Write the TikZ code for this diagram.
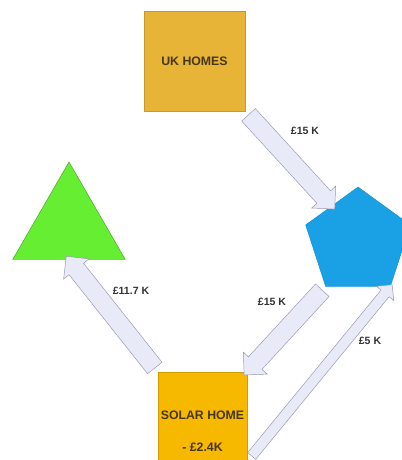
\documentclass[tikz,border=0pt]{standalone}
\usepackage{fontspec}
\setmainfont{Liberation Sans}
\usetikzlibrary{shapes.geometric,shapes.arrows,calc}
\definecolor{ukgold}{RGB}{232,180,56}
\definecolor{solargold}{RGB}{247,184,0}
\definecolor{pentblue}{RGB}{26,160,228}
\definecolor{trigreen}{RGB}{102,238,51}
\definecolor{arrowfill}{RGB}{232,234,248}
\definecolor{arrowline}{RGB}{150,150,178}
\definecolor{boxtext}{RGB}{70,55,20}

\begin{document}
\begin{tikzpicture}[x=0.03cm, y=-0.03cm,
    boxlbl/.style={font=\fontsize{10.5}{12}\selectfont\bfseries, text=boxtext, align=center, inner sep=0pt},
    flowlbl/.style={font=\fontsize{9}{11}\selectfont\bfseries, text=black!80},
    flow/.style={single arrow, draw=arrowline, fill=arrowfill, inner xsep=0pt, outer sep=0pt, single arrow tip angle=90}
]
\useasboundingbox (0,0) rectangle (401,460);

% block arrow between two points: #1=from, #2=to, #3=half shaft, #4=head extend
\newcommand{\flowarrow}[4]{%
    \path let \p1=(#1), \p2=(#2), \n1={atan2(\y2-\y1,\x2-\x1)}, \n2={veclen(\x2-\x1,\y2-\y1)} in
        node[flow, rotate=\n1, minimum height=\n2, inner ysep=#3, single arrow head extend=#4] at ($(\p1)!0.5!(\p2)$) {};
}

% === Shapes ===
\node[boxlbl, fill=ukgold, draw=ukgold!85!black, minimum width=3.03cm, minimum height=3cm] (ukhomes) at (194.5,61) {UK HOMES};
\node[boxlbl, fill=solargold, draw=solargold!85!black, minimum width=2.67cm, minimum height=3.54cm] (solar) at (202.5,431) {SOLAR HOME\\[0.55cm]- £2.4K};
\node[regular polygon, regular polygon sides=5, fill=pentblue, draw=pentblue!90!black, minimum size=3.3cm, inner sep=0pt] (pent) at (358,242) {};
\node[regular polygon, regular polygon sides=3, fill=trigreen, draw=trigreen!70!black, minimum size=3.9cm, inner sep=0pt] (tri) at (69,227) {};

\coordinate (solarbase) at (250,458);

% === Flows ===
\flowarrow{ukhomes.south east}{pent.side 1}{0.27cm}{0.21cm}
\flowarrow{pent.corner 3}{solar.north east}{0.27cm}{0.21cm}
\flowarrow{solar.north west}{tri.side 2}{0.27cm}{0.21cm}
\flowarrow{solarbase}{pent.corner 4}{0.15cm}{0.18cm}

% === Amounts ===
\node[flowlbl] (amt1) at (305,131) {£15 K};
\node[flowlbl] (amt2) at (272,302) {£15 K};
\node[flowlbl] (amt3) at (131,291) {£11.7 K};
\node[flowlbl] (amt4) at (370,341) {£5 K};

\end{tikzpicture}
\end{document}
